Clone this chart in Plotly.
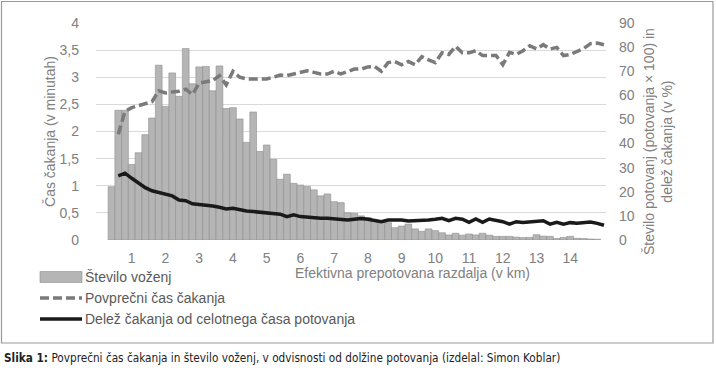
import plotly.graph_objects as go

# ---- data -------------------------------------------------------------
bar_km = [round(0.4 + 0.2 * i, 1) for i in range(73)]          # 0.4 ... 14.8
line_km = [round(0.6 + 0.2 * i, 1) for i in range(73)]         # 0.6 ... 15.0

trips_x100 = [
    22.1, 53.8, 53.8, 31.3, 36.2, 43.7, 50.6, 72.5, 55.4, 69.3,
    59.6, 79.4, 64.8, 71.8, 72.0, 61.9, 72.2, 54.5, 54.9, 50.2,
    40.5, 53.1, 36.7, 39.4, 33.5, 25.2, 27.3, 23.5, 22.8, 22.2,
    20.8, 18.3, 19.1, 15.9, 15.5, 11.3, 11.1, 10.0, 9.3, 8.3,
    7.2, 7.2, 5.1, 5.8, 6.6, 4.6, 3.6, 4.6, 3.9, 3.0,
    2.1, 2.8, 2.0, 2.5, 2.1, 2.8, 2.0, 1.5, 1.5, 1.5,
    1.2, 1.0, 1.1, 2.2, 1.6, 1.5, 0.6, 1.1, 1.5, 0.7,
    0.6, 0.4, 0.3,
]

avg_wait_min = [
    1.95, 2.37, 2.44, 2.48, 2.51, 2.55, 2.75, 2.71, 2.73, 2.74,
    2.78, 2.68, 2.89, 2.92, 2.94, 3.03, 2.86, 3.11, 3.00, 2.97,
    2.97, 2.97, 2.97, 3.00, 3.04, 3.03, 3.06, 3.08, 3.12, 3.09,
    3.06, 3.06, 3.11, 3.06, 3.11, 3.15, 3.15, 3.19, 3.20, 3.11,
    3.27, 3.29, 3.23, 3.29, 3.23, 3.38, 3.32, 3.27, 3.45, 3.42,
    3.57, 3.45, 3.45, 3.49, 3.40, 3.40, 3.40, 3.23, 3.46, 3.42,
    3.49, 3.58, 3.52, 3.60, 3.52, 3.55, 3.40, 3.42, 3.47, 3.53,
    3.62, 3.63, 3.60,
]

wait_share_pct = [
    26.6, 27.7, 25.6, 23.5, 21.7, 20.4, 19.8, 19.1, 18.3, 16.6,
    16.3, 15.0, 14.8, 14.5, 14.1, 13.6, 12.9, 13.2, 12.5, 12.0,
    11.8, 11.5, 11.1, 10.8, 10.7, 9.7, 10.4, 9.7, 9.4, 9.3,
    9.0, 9.0, 8.7, 8.3, 8.3, 8.6, 8.9, 8.6, 8.0, 7.6,
    8.3, 8.3, 8.3, 7.9, 8.0, 8.0, 8.3, 8.6, 9.0, 8.0,
    9.0, 8.6, 7.3, 8.7, 7.3, 8.7, 8.3, 7.6, 6.6, 7.6,
    7.3, 7.6, 7.6, 8.0, 6.6, 7.3, 6.6, 7.2, 6.9, 7.2,
    7.5, 6.9, 6.1,
]

x_ticks = list(range(1, 15))
left_ticks = [0, 0.5, 1, 1.5, 2, 2.5, 3, 3.5, 4]
right_ticks = list(range(0, 91, 10))

legend_names = [
    "Število voženj",
    "Povprečni čas čakanja",
    "Delež čakanja od celotnega časa potovanja",
]

# ---- layout helpers (pixel -> paper) -----------------------------------
W, H = 716, 376
PL, PR, PT, PB = 96, 606, 23, 240


def px(x):
    return (x - PL) / (PR - PL)


def py(y):
    return (PB - y) / (PB - PT)


FONT = "Liberation Sans, Arial, sans-serif"
TICK_COL = "#808080"
BAR_COL = "#b5b5b5"
BAR_EDGE = "#8f8f8f"
DASH_COL = "#7a7a7a"
SOLID_COL = "#1a1a1a"
DASH = "9px,4px"

fig = go.Figure()
fig.add_trace(go.Bar(
    x=bar_km, y=trips_x100, width=0.2, name=legend_names[0],
    marker=dict(color=BAR_COL, line=dict(color=BAR_EDGE, width=0.6)),
    yaxis="y",
))
fig.add_trace(go.Scatter(
    x=line_km, y=avg_wait_min, mode="lines", name=legend_names[1],
    line=dict(color=DASH_COL, width=3.5, dash=DASH),
    yaxis="y2",
))
fig.add_trace(go.Scatter(
    x=line_km, y=wait_share_pct, mode="lines", name=legend_names[2],
    line=dict(color=SOLID_COL, width=3.5),
    yaxis="y",
))

fig.update_layout(
    width=W, height=H,
    margin=dict(l=PL, r=W - PR, t=PT, b=H - PB, pad=0, autoexpand=False),
    paper_bgcolor="white", plot_bgcolor="white",
    separators=", ",
    font=dict(family=FONT, size=14, color=TICK_COL),
    bargap=0,
    showlegend=False,
    xaxis=dict(
        range=[-0.06, 15.06], tickvals=x_ticks, showgrid=False,
        zeroline=False, showline=False, ticks="", automargin=False,
        tickfont=dict(size=14, color=TICK_COL), ticklabelstandoff=8,
    ),
    yaxis=dict(
        side="right", range=[0, 90], tickvals=right_ticks, showgrid=False,
        zeroline=False, showline=False, ticks="", automargin=False,
        tickfont=dict(size=14, color=TICK_COL), ticklabelstandoff=12,
    ),
    yaxis2=dict(
        overlaying="y", side="left", range=[0, 4], tickvals=left_ticks,
        showgrid=True, gridcolor="#d9d9d9", gridwidth=1,
        zeroline=False, showline=False, ticks="", automargin=False,
        tickfont=dict(size=14, color=TICK_COL), ticklabelstandoff=16,
        title=dict(text="Čas čakanja (v minutah)",
                   font=dict(size=14, color=TICK_COL), standoff=0),
    ),
)

# right axis title (placed like the original)
fig.add_annotation(
    text="Število potovanj (potovanja × 100) in<br>delež čakanja (v %)",
    xref="paper", yref="paper", x=px(658), y=py(142), textangle=-90,
    showarrow=False, xanchor="center", yanchor="middle", align="center",
    font=dict(size=14, color=TICK_COL),
)

# x-axis title (offset right, as in the original)
fig.add_annotation(
    text="Efektivna prepotovana razdalja (v km)", xref="paper", yref="paper",
    x=px(412), y=py(273), showarrow=False, xanchor="center", yanchor="middle",
    font=dict(size=14, color=TICK_COL),
)

# custom legend (wide bar swatch like the original)
LEG_X0, LEG_X1 = 40, 82
leg_y = [277, 298, 319]
fig.add_shape(type="rect", xref="paper", yref="paper",
              x0=px(LEG_X0), x1=px(LEG_X1), y0=py(leg_y[0] - 5.5), y1=py(leg_y[0] + 5.5),
              fillcolor=BAR_COL, line=dict(color=BAR_EDGE, width=0.6))
fig.add_shape(type="line", xref="paper", yref="paper",
              x0=px(LEG_X0), x1=px(LEG_X1), y0=py(leg_y[1]), y1=py(leg_y[1]),
              line=dict(color=DASH_COL, width=3.5, dash=DASH))
fig.add_shape(type="line", xref="paper", yref="paper",
              x0=px(LEG_X0), x1=px(LEG_X1), y0=py(leg_y[2]), y1=py(leg_y[2]),
              line=dict(color=SOLID_COL, width=3.5))
for name, yy in zip(legend_names, leg_y):
    fig.add_annotation(
        text=name, xref="paper", yref="paper", x=px(LEG_X1 + 1), y=py(yy),
        showarrow=False, xanchor="left", yanchor="middle",
        font=dict(size=14, color="#595959"),
    )

# caption
fig.add_annotation(
    text="<b>Slika 1:</b> Povprečni čas čakanja in število voženj, v odvisnosti od dolžine potovanja (izdelal: Simon Koblar)",
    xref="paper", yref="paper", x=px(2), y=py(358), showarrow=False,
    xanchor="left", yanchor="middle",
    font=dict(family="Liberation Sans Narrow, DejaVu Sans Condensed, sans-serif",
              size=11.7, color="#222222"),
)

# outer frame
fig.add_shape(
    type="rect", xref="paper", yref="paper",
    x0=px(1.5), x1=px(713), y0=py(1.5), y1=py(343),
    line=dict(color="#9a9a9a", width=1.2), fillcolor="rgba(0,0,0,0)",
    layer="below",
)

fig.write_html(
    "out.html",
    config={"displayModeBar": False, "staticPlot": True},
    post_script="document.body.style.margin='0';document.body.style.padding='0';",
)
